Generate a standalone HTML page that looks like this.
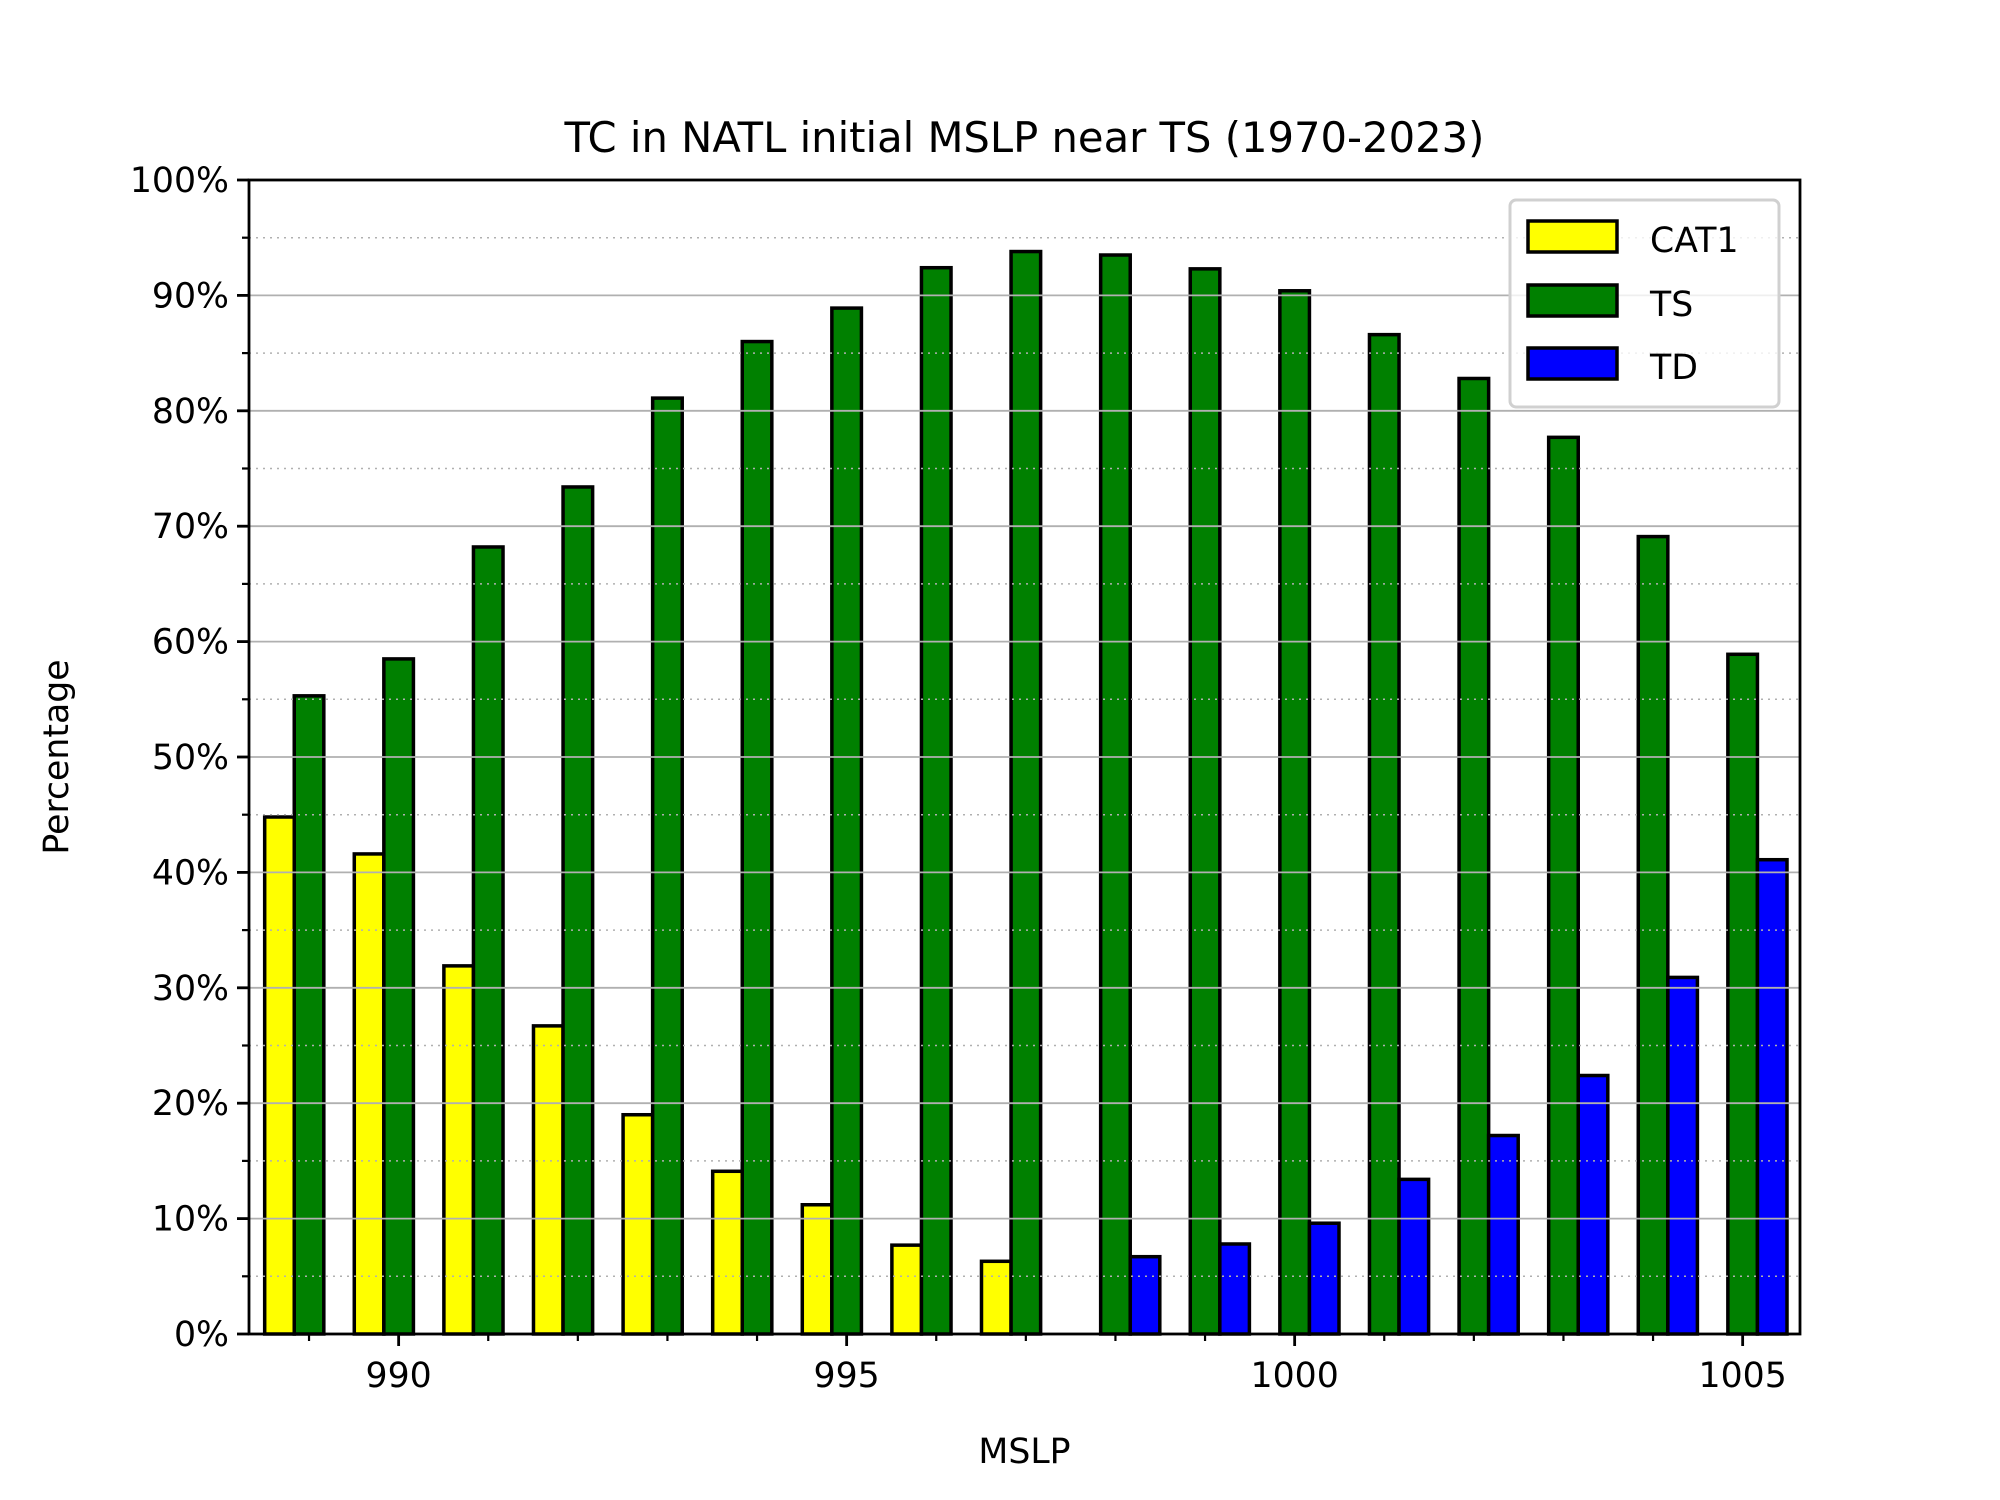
<!DOCTYPE html>
<html><head><meta charset="utf-8"><style>
body{margin:0;background:#fff}
svg{display:block;font-family:"DejaVu Sans","Liberation Sans",sans-serif}
</style></head><body>
<svg id="chart" width="2000" height="1500" viewBox="0 0 2000 1500">
<rect width="2000" height="1500" fill="#fff"/>
<g id="bars"></g><g id="grid"></g><g id="axes"></g>
<text x="1024.5" y="152" font-size="41.7" text-anchor="middle">TC in NATL initial MSLP near TS (1970-2023)</text>
<text x="1024.5" y="1463" font-size="34.7" text-anchor="middle">MSLP</text>
<text x="0" y="0" font-size="34.7" text-anchor="middle" transform="translate(68,757) rotate(-90)">Percentage</text>
<g>
<rect x="1510" y="200" width="269" height="207" rx="6" fill="#fff" fill-opacity="0.8" stroke="#d0d0d0" stroke-width="3"/>
<g><rect x="1528" y="221" width="89" height="31" fill="#ffff00" stroke="#000" stroke-width="3.5"/><text x="1650" y="252" font-size="34.7">CAT1</text></g>
<g><rect x="1528" y="285" width="89" height="31" fill="#008000" stroke="#000" stroke-width="3.5"/><text x="1650" y="316" font-size="34.7">TS</text></g>
<g><rect x="1528" y="348" width="89" height="31" fill="#0000ff" stroke="#000" stroke-width="3.5"/><text x="1650" y="379" font-size="34.7">TD</text></g>
</g>
</svg>
<script>
const categories=[989,990,991,992,993,994,995,996,997,998,999,1000,1001,1002,1003,1004,1005];
const cat1Values=[44.8,41.6,31.9,26.7,19.0,14.1,11.2,7.7,6.3,0,0,0,0,0,0,0,0];
const tsValues=[55.3,58.5,68.2,73.4,81.1,86.0,88.9,92.4,93.8,93.5,92.3,90.4,86.6,82.8,77.7,69.1,58.9];
const tdValues=[0,0,0,0,0,0,0,0,0,6.7,7.8,9.6,13.4,17.2,22.4,30.9,41.1];
const xTickLabels=[990,995,1000,1005];
const yTickLabels=[0,10,20,30,40,50,60,70,80,90,100];

const L=249,R=1800,T=180,B=1334,XMIN=988.33,XMAX=1005.64;
const NS='http://www.w3.org/2000/svg';
const xs=v=>L+(v-XMIN)/(XMAX-XMIN)*(R-L);
const ys=v=>B-v/100*(B-T);
function mk(tag,attrs,parent){const e=document.createElementNS(NS,tag);for(const k in attrs)e.setAttribute(k,attrs[k]);parent.appendChild(e);return e;}
const bars=document.getElementById('bars'),grid=document.getElementById('grid'),axes=document.getElementById('axes');
const W=0.33;
const series=[[cat1Values,'#ffff00',-W,'cat1'],[tsValues,'#008000',0,'ts'],[tdValues,'#0000ff',W,'td']];
series.forEach(([vals,col,off,nm])=>{
  categories.forEach((c,i)=>{
    const v=vals[i];
    if(v<=0)return;
    const x0=xs(c+off-W/2),x1=xs(c+off+W/2);
    const r=mk('rect',{x:x0,y:ys(v),width:x1-x0,height:ys(0)-ys(v),fill:col,stroke:'#000','stroke-width':3.5},bars);
    
    
  });
});
for(let v=5;v<100;v+=10){
  const l=mk('line',{x1:L,x2:R,y1:ys(v),y2:ys(v),stroke:'#b0b0b0','stroke-width':1.5,'stroke-dasharray':'2,5'},grid);
  
  
  const t=mk('line',{x1:L,x2:L-7,y1:ys(v),y2:ys(v),stroke:'#000','stroke-width':2.2},axes);
  
  
}
yTickLabels.forEach(v=>{
  const l=mk('line',{x1:L,x2:R,y1:ys(v),y2:ys(v),stroke:'#b0b0b0','stroke-width':1.8},grid);
  
  
  mk('line',{x1:L,x2:L-12,y1:ys(v),y2:ys(v),stroke:'#000','stroke-width':2.8},axes);
  const t=mk('text',{x:L-20,y:ys(v)+12,'font-size':34.7,'text-anchor':'end'},axes);
  t.textContent=v+'%';
  
  
});
categories.forEach(c=>{
  if(xTickLabels.includes(c))return;
  const t=mk('line',{x1:xs(c),x2:xs(c),y1:B,y2:B+7,stroke:'#000','stroke-width':2.2},axes);
  
  
});
xTickLabels.forEach(c=>{
  mk('line',{x1:xs(c),x2:xs(c),y1:B,y2:B+12,stroke:'#000','stroke-width':2.8},axes);
  const t=mk('text',{x:xs(c),y:B+53,'font-size':34.7,'text-anchor':'middle'},axes);
  t.textContent=c;
  
  
});
const f=mk('rect',{x:L,y:T,width:R-L,height:B-T,fill:'none',stroke:'#000','stroke-width':2.8},axes);


</script>
</body></html>
